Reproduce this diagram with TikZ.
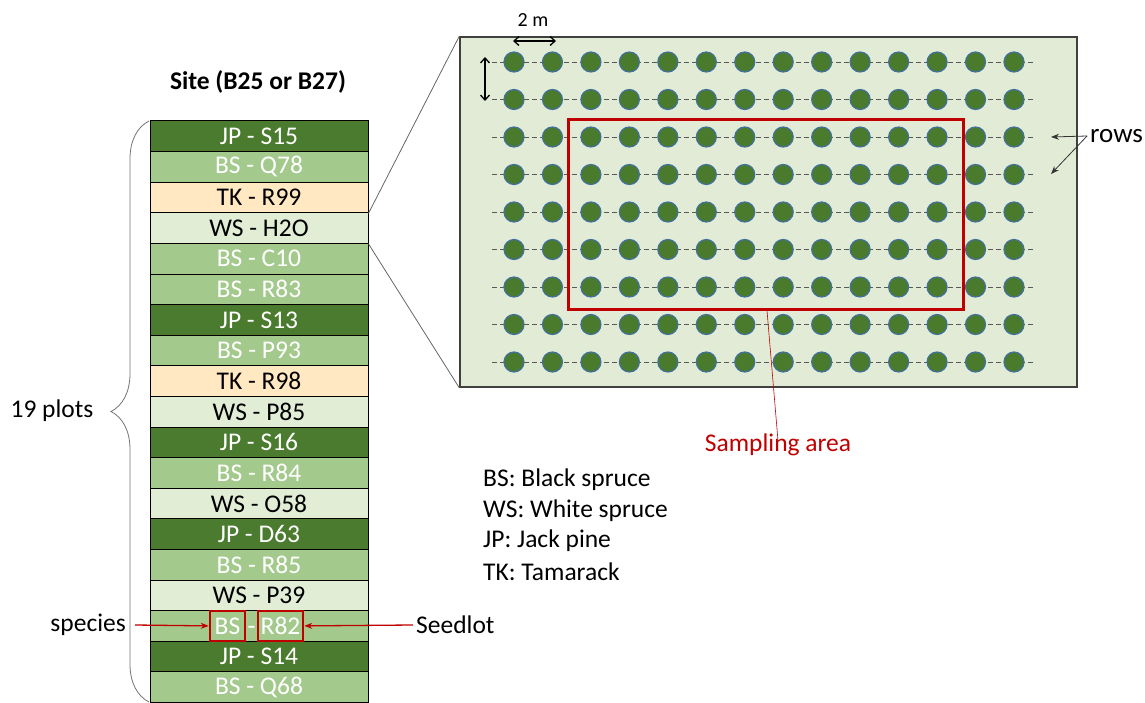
\documentclass[tikz,border=0pt]{standalone}
\usepackage{fontspec}
\setmainfont{Carlito}
\usetikzlibrary{arrows.meta,decorations.pathreplacing}
\definecolor{jp}{HTML}{4B7B2F}
\definecolor{bs}{HTML}{A3CA8C}
\definecolor{ws}{HTML}{E2EDD6}
\definecolor{tk}{HTML}{FFE8C2}
\definecolor{areafill}{HTML}{E2EBD5}
\definecolor{treefill}{HTML}{4A7A2C}
\definecolor{treeedge}{HTML}{41719C}
\definecolor{sred}{HTML}{C00000}
\tikzset{
  plot/.style={draw=black, line width=1pt, minimum width=218pt, minimum height=30.6pt, inner sep=0pt, font=\fontsize{25.5}{27}\selectfont},
  tree/.style={circle, fill=treefill, draw=treeedge, line width=1.2pt, minimum size=20pt, inner sep=0pt},
  rowline/.style={dashed, dash pattern=on 5pt off 3pt, draw=black!65, line width=0.8pt},
  redbox/.style={draw=sred, line width=2.5pt, minimum height=30pt, inner sep=0pt, text=white, font=\fontsize{25.5}{27}\selectfont},
  lbl/.style={font=\fontsize{25.5}{27}\selectfont, inner sep=0pt},
  zoomline/.style={draw=black!60, line width=0.8pt},
  darrow/.style={{Straight Barb[length=5pt,width=9pt]}-{Straight Barb[length=5pt,width=9pt]}, line width=1.3pt},
  redarrow/.style={-{Stealth[length=8pt,width=6pt]}, draw=sred, line width=1.3pt},
  blkarrow/.style={-{Stealth[length=8pt,width=6pt]}, draw=black!80, line width=0.8pt}
}
\begin{document}
\begin{tikzpicture}[x=1pt,y=-1pt]
\useasboundingbox (0,0) rectangle (1145,703);
% plot stack
\foreach \c/\tc/\s [count=\i] in {jp/white/JP - S15, bs/white/BS - Q78, tk/black/TK - R99, ws/black/WS - H2O, bs/white/BS - C10, bs/white/BS - R83, jp/white/JP - S13, bs/white/BS - P93, tk/black/TK - R98, ws/black/WS - P85, jp/white/JP - S16, bs/white/BS - R84, ws/black/WS - O58, jp/white/JP - D63, bs/white/BS - R85, ws/black/WS - P39, bs/white/{}, jp/white/JP - S14, bs/white/BS - Q68}
  \node[plot, fill=\c, text=\tc] (p\i) at (259, {121+(\i-0.5)*30.6}) {\s};
\node[redbox, minimum width=35pt] (sp) at ([xshift=-31.5pt]p17.center) {BS};
\node[lbl, text=white, anchor=base] (dash17) at ([xshift=24pt]sp.base) {-};
\node[redbox, minimum width=45pt] (sl17) at ([xshift=21.5pt]p17.center) {R82};
\node[lbl, anchor=east] (species) at (126,625) {species};
\node[lbl, anchor=west] (seedlot) at (416,625) {Seedlot};
\draw[redarrow] ([xshift=9pt]species.east) -- (sp.west);
\draw[redarrow] ([xshift=-3pt]seedlot.west) -- (sl17.east);
% title and brace
\node[lbl, font=\fontsize{25.5}{27}\selectfont\bfseries] (site) at (258,82) {Site (B25 or B27)};
\draw[draw=black!55, line width=0.8pt, decorate, decoration={brace, amplitude=38pt}] (149,702) -- (149,121) coordinate (bracetop);
\node[lbl] (nplots) at (52,411) {19 plots};
% plot area
\node[draw=black!75, line width=1.5pt, fill=areafill, minimum width=617pt, minimum height=350pt, inner sep=0pt] (area) at (768.5,212) {};
\draw[zoomline] (p3.south east) -- (area.north west);
\draw[zoomline] (p4.south east) -- (area.south west);
\foreach \r in {0,...,8} {
  \draw[rowline] (492,{62+37.5*\r}) -- (1035,{62+37.5*\r});
  \foreach \c in {0,...,13}
    \node[tree] (t-\r-\c) at ({514+38.46*\c},{62+37.5*\r}) {};
}
\node[draw=sred, line width=3pt, minimum width=395pt, minimum height=189pt, inner sep=0pt] (samp) at (765.5,214.5) {};
\node[lbl, text=sred] (slabel) at (778,445) {Sampling area};
\draw[sred, line width=0.6pt] ([xshift=1.5pt]samp.south) -- ([yshift=-7pt]slabel.north);
% spacing arrows
\coordinate (h1) at (513,41); \coordinate (h2) at (556,41);
\draw[darrow] (h1) -- (h2);
\node[lbl, font=\fontsize{20}{22}\selectfont] (twom) at (533,20) {2 m};
\coordinate (v1) at (485,57); \coordinate (v2) at (485,101);
\draw[darrow] (v1) -- (v2);
% rows
\node[lbl, anchor=west, font=\fontsize{27}{29}\selectfont] (rows) at (1090,136) {rows};
\coordinate (ra) at (1051,137); \coordinate (rb) at (1051,174);
\draw[blkarrow] ([xshift=-3pt]rows.west) -- (ra);
\draw[blkarrow] ([xshift=-3pt]rows.west) -- (rb);
% legend
\node[lbl, anchor=west] (lg1) at (483,480) {BS: Black spruce};
\node[lbl, anchor=west] (lg2) at (483,511) {WS: White spruce};
\node[lbl, anchor=west] (lg3) at (483,541) {JP: Jack pine};
\node[lbl, anchor=west] (lg4) at (483,572) {TK: Tamarack};
\end{tikzpicture}
\end{document}
